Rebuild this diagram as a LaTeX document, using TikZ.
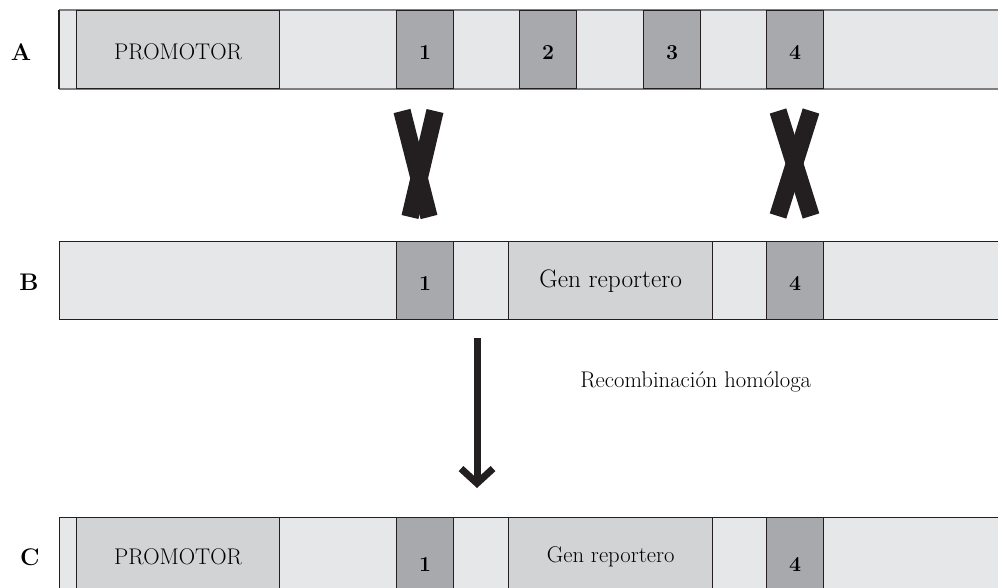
\documentclass[tikz,border=0pt]{standalone}
\usepackage{tikz}
\usetikzlibrary{arrows.meta,positioning}
\definecolor{barfill}{HTML}{E6E7E8}
\definecolor{boxfill}{HTML}{D1D3D4}
\definecolor{exonfill}{HTML}{A7A9AC}
\definecolor{darkedge}{HTML}{231F20}
\definecolor{greyedge}{HTML}{7D7F82}
\begin{document}
\begin{tikzpicture}[x=0.75pt,y=-0.75pt,font=\fontsize{17}{20}\selectfont]
\tikzstyle{bar}=[fill=barfill,minimum width=706pt,minimum height=58.5pt,inner sep=0pt,anchor=north west]
\tikzstyle{exon}=[draw=darkedge,fill=exonfill,line width=1pt,minimum width=42.75pt,minimum height=58.5pt,inner sep=0pt,anchor=north west,font=\fontsize{16}{18}\selectfont\bfseries,text height=15pt,text depth=0pt]
\tikzstyle{exonlow}=[exon,text height=22pt]
\tikzstyle{promo}=[draw=darkedge,fill=boxfill,line width=1pt,minimum width=152.25pt,minimum height=58.5pt,inner sep=0pt,anchor=north west]
\tikzstyle{gen}=[promo,minimum width=153pt]
\tikzstyle{rowlabel}=[font=\fontsize{18}{20}\selectfont\bfseries,inner sep=0pt]
\tikzstyle{cross}=[line width=13pt,draw=darkedge]
\useasboundingbox (0,0) rectangle (998,588);
\clip (0,0) rectangle (998,588);
% fila A
\node[bar] (barA) at (59,10) {};
\draw[greyedge,line width=1.5pt] (barA.north west) -- (barA.north east);
\draw[greyedge,line width=1.5pt] (barA.south west) -- (barA.south east);
\draw[darkedge,line width=1pt] (barA.north west) -- (barA.south west);
\node[promo,text height=15pt,text depth=0pt] (promA) at (76,10) {PROMOTOR};
\node[exon] (a1) at (396,10) {1};
\node[exon] (a2) at (519,10) {2};
\node[exon] (a3) at (643,10) {3};
\node[exon] (a4) at (766,10) {4};
\node[rowlabel] (labA) at (21,52) {A};
% cruces
\draw[cross] (402,111) -- (429,217);
\draw[cross] (435,111) -- (410,217);
\draw[cross] (778,111) -- (811,216);
\draw[cross] (811,111) -- (778,216);
% fila B
\node[bar,draw=darkedge,line width=1pt] (barB) at (59,241) {};
\node[exon] (b1) at (396,241) {1};
\node[gen,font=\fontsize{19}{22}\selectfont] (genB) at (508,241) {Gen reportero};
\node[exon] (b4) at (766,241) {4};
\node[rowlabel] (labB) at (29,282) {B};
% flecha
\coordinate (arrS) at (477,338);
\coordinate (arrE) at (477,488);
\draw[darkedge,line width=5.25pt,-{Straight Barb[length=11pt,width=24pt]}] (arrS) -- (arrE);
\node[anchor=west,inner sep=0pt] (recomb) at (580,382) {Recombinaci\'on hom\'ologa};
% fila C
\node[bar,draw=darkedge,line width=1pt] (barC) at (59,517) {};
\node[promo] (promC) at (76,517) {PROMOTOR};
\node[exonlow] (c1) at (396,517) {1};
\node[gen] (genC) at (508,517) {Gen reportero};
\node[exonlow] (c4) at (766,517) {4};
\node[rowlabel] (labC) at (30,557) {C};
\end{tikzpicture}
\end{document}
